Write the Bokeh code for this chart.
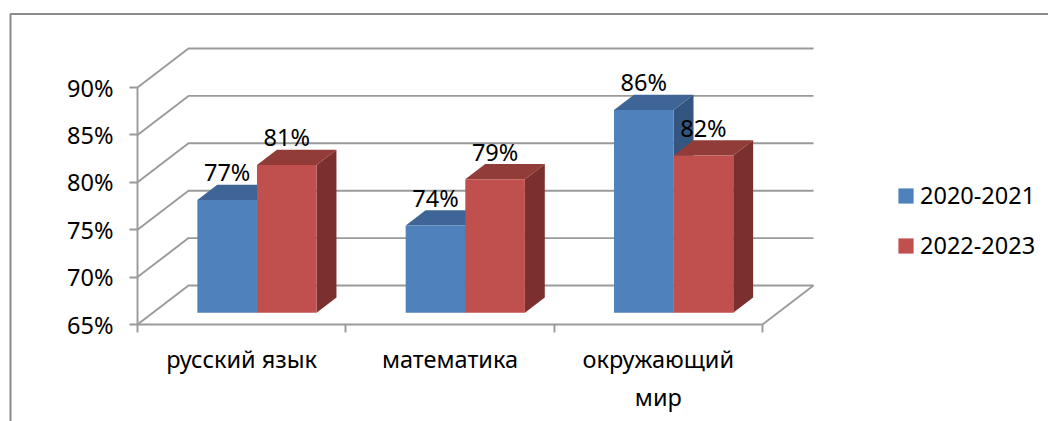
from bokeh.plotting import figure
from bokeh.models import Range1d, FixedTicker, LinearAxis, Legend, LegendItem
from bokeh.core.properties import value
from bokeh.embed import file_html
from bokeh.resources import INLINE

categories = ["русский язык", "математика", "окружающий\nмир"]
series_names = ["2020-2021", "2022-2023"]
values_2020 = [76.9, 74.2, 86.4]
values_2022 = [80.6, 79.1, 81.6]
y_ticks = [65, 70, 75, 80, 85, 90]

FONT = "Noto Sans"
SIZE = "23.5px"
GRID = "#9A9A9A"
LW = 1.9
FACE = ["#4F81BD", "#C0504D"]
TOP = ["#3E6595", "#923C3A"]
SIDE = ["#34557F", "#7B2F2E"]

W, H = 1048, 421
X0, Y0 = 137, 324           # pixel of the origin (first category edge, 65 %)
PX_X = 208.33               # pixels per category
PX_Y = 9.48                 # pixels per percentage point
DEPTH_X = 51 / PX_X         # floor depth, in category units
DEPTH_Y = 39 / PX_Y         # floor depth, in percentage points
BAR_D0, BAR_D1 = 0.30, 0.69 # bar front and back, as a share of the floor depth
BAR_W = 59.6 / PX_X         # bar width in category units


def px_x(x):
    return (x - X0) / PX_X


def px_y(y):
    return 65 + (Y0 - y) / PX_Y


p = figure(width=W, height=H, output_backend="svg", toolbar_location=None,
           x_range=Range1d(px_x(0), px_x(W)),
           y_range=Range1d(px_y(H), px_y(0)),
           min_border=0, outline_line_color=None, x_axis_type=None, y_axis_type=None)
p.grid.visible = False
p.background_fill_color = "white"

# outer frame
p.multi_line([[px_x(10), px_x(10), px_x(W)]], [[px_y(H), px_y(13.5), px_y(13.5)]],
             line_color="#8C8C8C", line_width=2)

# walls and floor
n = len(categories)
for t in y_ticks:
    p.line([0, DEPTH_X, n + DEPTH_X], [t, t + DEPTH_Y, t + DEPTH_Y], line_color=GRID, line_width=LW)
p.line([n, n + DEPTH_X], [y_ticks[0], y_ticks[0] + DEPTH_Y], line_color=GRID, line_width=LW)

# bars
legend_renderers = {}
for i in range(n):
    for s, vals in enumerate([values_2020, values_2022]):
        v = vals[i]
        left = i + 0.5 - BAR_W + s * BAR_W + BAR_D0 * DEPTH_X
        right = left + BAR_W
        bottom = y_ticks[0] + BAR_D0 * DEPTH_Y
        top = v + BAR_D0 * DEPTH_Y
        dx = (BAR_D1 - BAR_D0) * DEPTH_X
        dy = (BAR_D1 - BAR_D0) * DEPTH_Y
        p.patch([right, right + dx, right + dx, right],
                [bottom, bottom + dy, top + dy, top], fill_color=SIDE[s], line_color=None)
        p.patch([left, left + dx, right + dx, right],
                [top, top + dy, top + dy, top], fill_color=TOP[s], line_color=None)
        r = p.quad(left=left, right=right, bottom=bottom, top=top, fill_color=FACE[s], line_color=None)
        legend_renderers.setdefault(s, r)

# data labels
for i in range(n):
    for s, vals in enumerate([values_2020, values_2022]):
        v = vals[i]
        cx = i + 0.5 - BAR_W / 2 + s * BAR_W + BAR_D0 * DEPTH_X
        p.text([cx], [v + BAR_D0 * DEPTH_Y + 27.5 / PX_Y], text=[f"{round(v)}%"],
               text_align="center", text_baseline="alphabetic",
               text_font=value(FONT), text_font_size=SIZE, text_color="black")

# axes
yaxis = LinearAxis(fixed_location=0, ticker=FixedTicker(ticks=y_ticks), bounds=(y_ticks[0], y_ticks[-1]),
                   major_label_overrides={t: f"{t}%" for t in y_ticks},
                   axis_line_color=GRID, axis_line_width=LW,
                   major_tick_line_color=GRID, major_tick_line_width=LW,
                   major_tick_out=8, major_tick_in=0, minor_tick_line_color=None,
                   major_label_standoff=16, major_label_text_font=FONT,
                   major_label_text_font_size=SIZE, major_label_text_color="black")
p.add_layout(yaxis, "left")

xedge = LinearAxis(fixed_location=65, ticker=FixedTicker(ticks=list(range(n + 1))), bounds=(0, n),
                   major_label_text_color=None, major_label_text_font_size="1px",
                   axis_line_color=GRID, axis_line_width=LW,
                   major_tick_line_color=GRID, major_tick_line_width=LW,
                   major_tick_out=8, major_tick_in=0, minor_tick_line_color=None)
p.add_layout(xedge, "below")

centers = [i + 0.5 for i in range(n)]
xlabels = LinearAxis(fixed_location=65, ticker=FixedTicker(ticks=centers),
                     major_label_overrides={c: t for c, t in zip(centers, categories)},
                     axis_line_color=None, major_tick_line_color=None, minor_tick_line_color=None,
                     major_tick_out=0, major_tick_in=0, major_label_standoff=18,
                     major_label_text_font=FONT, major_label_text_font_size=SIZE,
                     major_label_text_color="black")
p.add_layout(xlabels, "below")

# legend
legend = Legend(items=[LegendItem(label=series_names[0], renderers=[legend_renderers[0]]),
                       LegendItem(label=series_names[1], renderers=[legend_renderers[1]])],
                location=(896, 160), border_line_color=None, background_fill_color=None,
                glyph_width=19, glyph_height=19, label_height=30, spacing=18, padding=0, margin=0,
                label_standoff=5, label_text_font=FONT, label_text_font_size=SIZE,
                label_text_color="black")
p.add_layout(legend)

open("out.html", "w").write(file_html(p, INLINE))
